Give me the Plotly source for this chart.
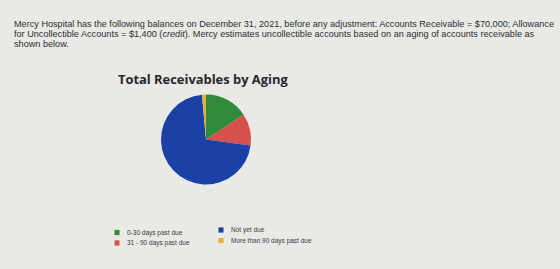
import plotly.graph_objects as go

# Data
labels = ["0-30 days past due", "31 - 90 days past due", "Not yet due", "More than 90 days past due"]
values = [11000, 8000, 50000, 1000]
colors = ["#2f8a3a", "#d6514c", "#1c41a6", "#e2b33c"]

legend_col1 = ["0-30 days past due", "31 - 90 days past due"]
legend_col2 = ["Not yet due", "More than 90 days past due"]

para_lines = [
    "Mercy Hospital has the following balances on December 31, 2021, before any adjustment: Accounts Receivable = $70,000; Allowance",
    "for Uncollectible Accounts = $1,400 (<i>credit</i>). Mercy estimates uncollectible accounts based on an aging of accounts receivable as",
    "shown below.",
]
title_text = "Total Receivables by Aging"

W, H = 560, 269

def px(x):
    return x / W

def py(y):
    return 1 - y / H

fig = go.Figure()
fig.add_trace(go.Pie(
    labels=labels, values=values, sort=False, direction="clockwise", rotation=0,
    marker=dict(colors=colors, line=dict(width=0)),
    textinfo="none", hoverinfo="label+value+percent", showlegend=False,
    domain=dict(x=[px(161), px(251)], y=[py(184.5), py(94.5)]),
))

annotations = []
# paragraph
for i, line in enumerate(para_lines):
    annotations.append(dict(
        text=line, x=px(12), y=py(24 + i * 9.8), xref="paper", yref="paper",
        xanchor="left", yanchor="middle", showarrow=False,
        font=dict(family="Liberation Sans, Arial", size=9.15, color="#2e2e32"),
    ))

shapes = []
color_of = dict(zip(labels, colors))
cols = [(legend_col1, 114.5, 232.5), (legend_col2, 218.5, 230.0)]
for items, x0, y0 in cols:
    for j, lab in enumerate(items):
        yc = y0 + j * 10.5
        shapes.append(dict(
            type="rect", xref="paper", yref="paper",
            x0=px(x0), x1=px(x0 + 5), y0=py(yc - 2.6), y1=py(yc + 2.6),
            fillcolor=color_of[lab], line=dict(width=0),
        ))
        annotations.append(dict(
            text=lab, x=px(x0 + 10), y=py(yc), xref="paper", yref="paper",
            xanchor="left", yanchor="middle", showarrow=False,
            font=dict(family="Liberation Sans, Arial", size=6.5, color="#3a3a48"),
        ))

fig.update_layout(
    width=W, height=H,
    margin=dict(l=0, r=0, t=0, b=0),
    paper_bgcolor="#e9e9e6",
    plot_bgcolor="#e9e9e6",
    title=dict(
        text="<b>" + title_text + "</b>", x=px(118), xanchor="left",
        y=py(79), yanchor="middle",
        font=dict(family="Open Sans, Arial", size=12.9, color="#26262e"),
    ),
    annotations=annotations,
    shapes=shapes,
)

fig.write_html("out.html")
